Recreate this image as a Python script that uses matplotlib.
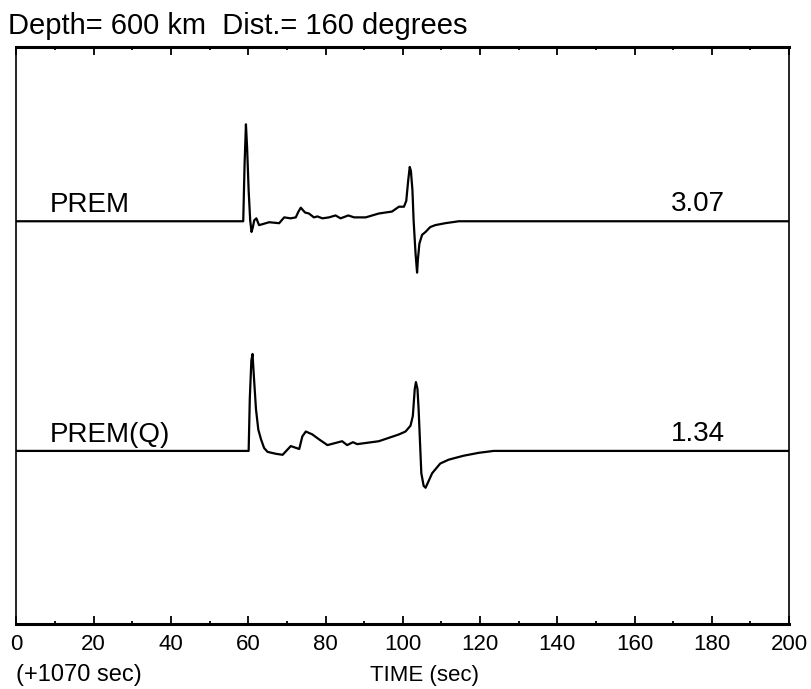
import matplotlib
matplotlib.use('Agg')
import matplotlib.pyplot as plt
from matplotlib.ticker import MultipleLocator

# traces: time (s, +1070 s) and amplitude normalised to peak
prem_t = [0, 58.7, 59.05, 59.4, 59.7, 60.1, 60.5, 60.85, 61.2, 61.55, 62.1, 62.8, 63.7,
          65.4, 68.0, 69.3, 71.0, 72.3, 73.0, 73.6, 74.7, 75.7, 77.0, 77.9, 79.2,
          80.9, 82.6, 83.9, 85.9, 87.4, 90.4, 93.8, 97.2, 99.0, 100.3, 100.9, 101.4,
          101.8, 102.1, 102.5, 102.8, 103.3, 103.7, 103.9, 104.3, 105.0, 105.9,
          107.1, 108.4, 111.0, 114.5, 200]
prem_a = [0, 0, 0.59, 1.00, 0.76, 0.32, 0.01, -0.11, -0.06, 0.01, 0.03, -0.04, -0.03,
          -0.01, -0.02, 0.04, 0.03, 0.04, 0.10, 0.14, 0.09, 0.08, 0.04, 0.05, 0.03,
          0.04, 0.06, 0.03, 0.06, 0.04, 0.04, 0.08, 0.10, 0.15, 0.15, 0.21, 0.42,
          0.56, 0.52, 0.32, 0.01, -0.33, -0.53, -0.40, -0.23, -0.14, -0.11,
          -0.06, -0.04, -0.02, 0, 0]

premq_t = [0, 60.1, 60.4, 60.8, 61.1, 61.55, 62.0, 62.6, 63.3, 64.1, 65.0, 67.2, 68.9,
           71.0, 73.2, 74.0, 74.9, 76.6, 78.3, 80.5, 84.3, 85.6, 87.1, 88.2, 93.8,
           99.0, 100.7, 102.0, 102.6, 103.1, 103.4, 103.8, 104.1, 104.5, 104.8,
           105.4, 105.9, 106.7, 107.6, 109.7, 111.9, 115.7, 119.6, 123.5, 200]
premq_a = [0, 0, 0.54, 0.93, 1.00, 0.71, 0.43, 0.22, 0.12, 0.03, -0.01, -0.03, -0.04,
           0.05, 0.02, 0.15, 0.20, 0.17, 0.12, 0.06, 0.10, 0.06, 0.09, 0.07, 0.10,
           0.17, 0.20, 0.26, 0.36, 0.64, 0.71, 0.64, 0.43, 0.05, -0.23,
           -0.36, -0.38, -0.31, -0.23, -0.13, -0.09, -0.05, -0.02, 0, 0]

trace_names = ['PREM', 'PREM(Q)']
trace_max = ['3.07', '1.34']
trace_offset = [0.698, 0.300]
gain = 0.168


def main():
    plt.rcParams['font.family'] = ['Liberation Sans', 'DejaVu Sans']
    fig = plt.figure(figsize=(8.11, 6.89), dpi=100)
    ax = fig.add_axes([0.0203, 0.0943, 0.9527, 0.8375])

    traces = [(prem_t, prem_a), (premq_t, premq_a)]
    for (t, a), off, name, amax in zip(traces, trace_offset, trace_names, trace_max):
        ax.plot(t, [off + v * gain for v in a], color='black', lw=1.6,
                solid_joinstyle='round')
        ax.text(8.6, off + 0.016, name, fontsize=20, ha='left', va='baseline')
        ax.text(183.5, off + 0.017, amax, fontsize=20, ha='right', va='baseline')

    ax.set_xlim(0, 200)
    ax.set_ylim(0, 1)
    ax.xaxis.set_major_locator(MultipleLocator(20))
    ax.xaxis.set_minor_locator(MultipleLocator(10))
    ax.tick_params(axis='x', which='both', direction='in', top=True, bottom=True,
                   labelsize=16, pad=7)
    ax.tick_params(axis='x', which='major', length=6, width=1.3)
    ax.tick_params(axis='x', which='minor', length=2.5, width=1.3)
    ax.set_yticks([])
    ax.spines['top'].set_linewidth(2.2)
    ax.spines['bottom'].set_linewidth(2.2)
    ax.spines['left'].set_linewidth(1.2)
    ax.spines['right'].set_linewidth(1.2)

    fig.text(8 / 811, 0.951, 'Depth= 600 km  Dist.= 160 degrees', fontsize=21,
             ha='left', va='baseline')
    fig.text(16 / 811, 0.012, '(+1070 sec)', fontsize=17, ha='left', va='baseline')
    fig.text(0.524, 0.012, 'TIME (sec)', fontsize=16, ha='center', va='baseline')

    fig.savefig('out.png', dpi=100)


if __name__ == '__main__':
    main()
